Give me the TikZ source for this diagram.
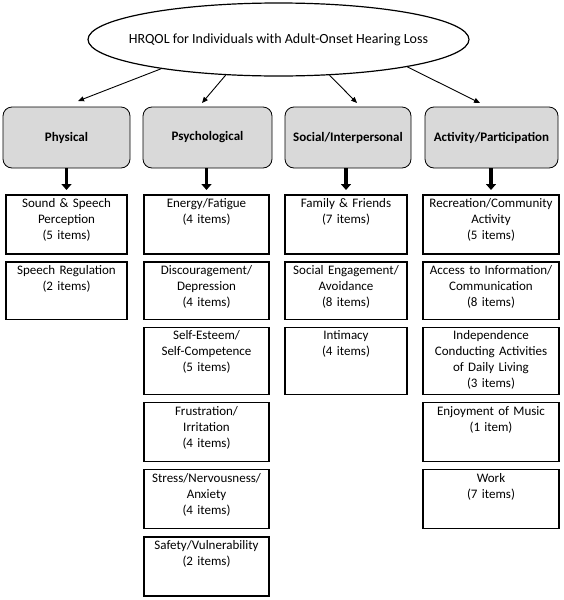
\documentclass[tikz,border=0pt]{standalone}
\usepackage{fontspec}
\setmainfont{Carlito}
\usetikzlibrary{shapes.geometric, positioning, arrows.meta}

\tikzset{%
        every node/.style = {font = \fontsize{13}{16}\selectfont},
        construct/.style = {ellipse, draw, line width = 1.2pt, minimum width = 381pt, minimum height = 73pt, inner ysep = 0pt, inner xsep = -70pt, font = \fontsize{14}{16}\selectfont},
        dimbox/.style = {rectangle, draw, line width = 0.8pt, rounded corners = 9pt, fill = gray!30, minimum height = 61pt, font = \fontsize{13}{16}\selectfont\bfseries},
        facet/.style = {rectangle, draw, line width = 1.6pt, inner xsep = 0pt, inner ysep = 2.5pt, align = center, text height = 10pt, text depth = 44pt},
        low/.style = {text depth = 42.4pt},
        tall/.style = {text depth = 52pt},
        branch/.style = {-{Triangle[length = 6pt, width = 5pt]}, line width = 0.9pt},
        feed/.style = {-{Triangle[length = 6pt, width = 10pt]}, line width = 3.5pt, shorten > = 4pt}
    }
\tikzset{%
        physcol/.style = {facet, text width = 121.4pt},
        psychcol/.style = {facet, text width = 125.4pt},
        socialcol/.style = {facet, text width = 122.4pt},
        activitycol/.style = {facet, text width = 136.4pt}
    }

\begin{document}
\begin{tikzpicture}[x = 1pt, y = -1pt, node distance = 6.5pt]
				\useasboundingbox (0,0) rectangle (564,600);

				\node[construct]							(hrqol)		at (278.5,39.5)		{HRQOL for Individuals with Adult-Onset Hearing Loss};

				% domains
				\node[dimbox, minimum width = 127pt]		(physical)		at (66.5,137.5)		{Physical};
				\node[dimbox, minimum width = 129pt]		(psychological)	at (207.5,137.5)	{Psychological};
				\node[dimbox, minimum width = 126pt]		(social)		at (348,137.5)		{Social/Interpersonal};
				\node[dimbox, minimum width = 133pt]		(activity)		at (491.5,137.5)	{Activity/Participation};

				\coordinate (tphys) at (78,101);
				\coordinate (tpsych) at (202,103);
				\coordinate (tsocial) at (357,103);
				\coordinate (tactivity) at (480,103);

				\draw[branch] (hrqol.-166) -- (tphys);
				\draw[branch] (hrqol.-146) -- (tpsych);
				\draw[branch] (hrqol.-35) -- (tsocial);
				\draw[branch] (hrqol.-12) -- (tactivity);

				% physical
				\node[physcol, anchor = north]				(sound)		at (66.5,194)		{Sound \& Speech\\Perception\\(5 items)};
				\node[physcol, low]						(regulation)	[below = of sound]		{Speech Regulation\\(2 items)};

				% psychological
				\node[psychcol, anchor = north]			(energy)		at (206.5,194)		{Energy/Fatigue\\(4 items)};
				\node[psychcol, low]						(discourage)	[below = of energy]		{Discouragement/\\Depression\\(4 items)};
				\node[psychcol, tall]						(esteem)		[below = of discourage]	{Self-Esteem/\\Self-Competence\\(5 items)};
				\node[psychcol]							(frustration)	[below = of esteem]		{Frustration/\\Irritation\\(4 items)};
				\node[psychcol]							(stress)		[below = of frustration]	{Stress/Nervousness/\\Anxiety\\(4 items)};
				\node[psychcol]							(safety)		[below = of stress]		{Safety/Vulnerability\\(2 items)};

				% social
				\node[socialcol, anchor = north]			(family)		at (346,194)		{Family \& Friends\\(7 items)};
				\node[socialcol, low]						(engagement)	[below = of family]		{Social Engagement/\\Avoidance\\(8 items)};
				\node[socialcol, tall]					(intimacy)		[below = of engagement]	{Intimacy\\(4 items)};

				% activity
				\node[activitycol, anchor = north]			(recreation)	at (491,194)		{Recreation/Community\\Activity\\(5 items)};
				\node[activitycol, low]					(access)		[below = of recreation]	{Access to Information/\\Communication\\(8 items)};
				\node[activitycol, tall]					(independence)	[below = of access]		{Independence\\Conducting Activities\\of Daily Living\\(3 items)};
				\node[activitycol]						(music)		[below = of independence]	{Enjoyment of Music\\(1 item)};
				\node[activitycol]						(work)		[below = of music]		{Work\\(7 items)};

				\draw[feed] (sound.north |- physical.south) -- (sound.north);
				\draw[feed] (energy.north |- psychological.south) -- (energy.north);
				\draw[feed] (family.north |- social.south) -- (family.north);
				\draw[feed] (recreation.north |- activity.south) -- (recreation.north);

			\end{tikzpicture}
\end{document}
